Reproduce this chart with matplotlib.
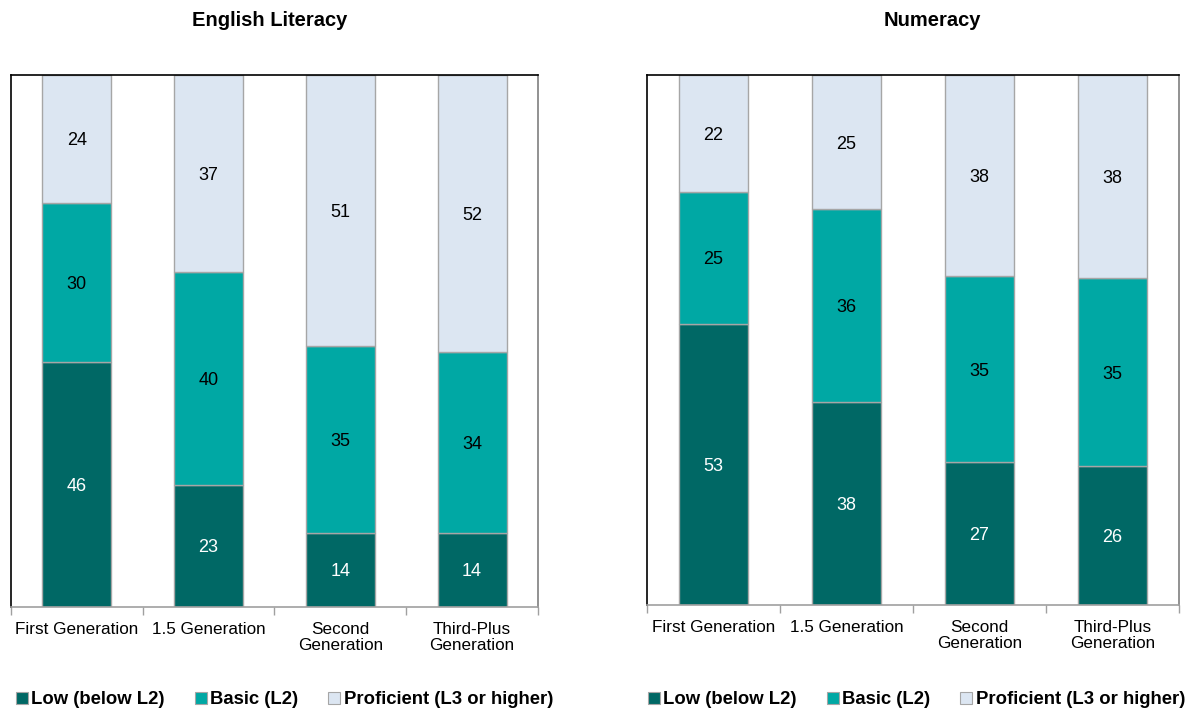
import matplotlib.pyplot as plt
import numpy as np
from matplotlib.lines import Line2D

plt.rcParams['font.family'] = ['Liberation Sans', 'DejaVu Sans']

categories = ["First Generation", "1.5 Generation", "Second\nGeneration", "Third-Plus\nGeneration"]
levels = ["Low (below L2)", "Basic (L2)", "Proficient (L3 or higher)"]

literacy_low = [46, 23, 14, 14]
literacy_basic = [30, 40, 35, 34]
literacy_prof = [24, 37, 51, 52]

numeracy_low = [53, 38, 27, 26]
numeracy_basic = [25, 36, 35, 35]
numeracy_prof = [22, 25, 38, 38]

colors = ["#006865", "#00A8A4", "#DCE6F2"]
text_colors = ["white", "black", "black"]


def draw_panel(ax, series):
    x = np.arange(len(categories))
    totals = np.sum(series, axis=0)
    bottom = np.zeros(len(categories))
    for vals, color, tcol in zip(series, colors, text_colors):
        vals = np.array(vals, dtype=float)
        share = vals / totals * 100
        ax.bar(x, share, 0.525, bottom=bottom, color=color,
               edgecolor="#A6A6A6", linewidth=1.0, zorder=2)
        for xi, b, s, v in zip(x, bottom, share, vals):
            ax.text(xi, b + s / 2 - 0.4, f"{int(v)}", ha="center", va="center",
                    fontsize=13, color=tcol, zorder=3)
        bottom += share
    ax.set_xlim(-0.5, len(categories) - 0.5)
    ax.set_ylim(0, 100)
    ax.set_yticks([])
    ax.set_xticks(x)
    ax.set_xticklabels(categories, fontsize=12.3, linespacing=1.1)
    ax.tick_params(axis="x", which="major", length=0, pad=11)
    ax.set_xticks(np.arange(len(categories) + 1) - 0.5, minor=True)
    ax.tick_params(axis="x", which="minor", length=6, color="#A0A0A0", width=1)
    ax.spines["left"].set_color("black")
    ax.spines["top"].set_color("black")
    ax.spines["right"].set_color("#7F7F7F")
    ax.spines["bottom"].set_color("#A0A0A0")
    for sp in ax.spines.values():
        sp.set_linewidth(1.2)


fig = plt.figure(figsize=(11.91, 7.11), dpi=100)
ax1 = fig.add_axes([0.0092, 0.1463, 0.4425, 0.7482])
ax2 = fig.add_axes([0.5432, 0.1491, 0.4467, 0.7454])

draw_panel(ax1, [literacy_low, literacy_basic, literacy_prof])
draw_panel(ax2, [numeracy_low, numeracy_basic, numeracy_prof])

fig.text(270 / 1191, 1 - 21 / 711, "English Literacy", ha="center", va="center",
         fontsize=14.5, fontweight="bold")
fig.text(932 / 1191, 1 - 21 / 711, "Numeracy", ha="center", va="center",
         fontsize=14.5, fontweight="bold")

handles = [Line2D([], [], marker="s", linestyle="none", markersize=9,
                  markerfacecolor=c, markeredgecolor="#A6A6A6", markeredgewidth=0.8)
           for c in colors]
for x0 in [13 / 1191, 645 / 1191]:
    fig.legend(handles, levels, loc="center left", bbox_to_anchor=(x0, 1 - 700 / 711),
               ncol=3, frameon=False, prop={"weight": "bold", "size": 13.3},
               handletextpad=0.0, columnspacing=1.45, handlelength=1.0,
               borderaxespad=0, borderpad=0)

fig.savefig("out.png", dpi=100)
